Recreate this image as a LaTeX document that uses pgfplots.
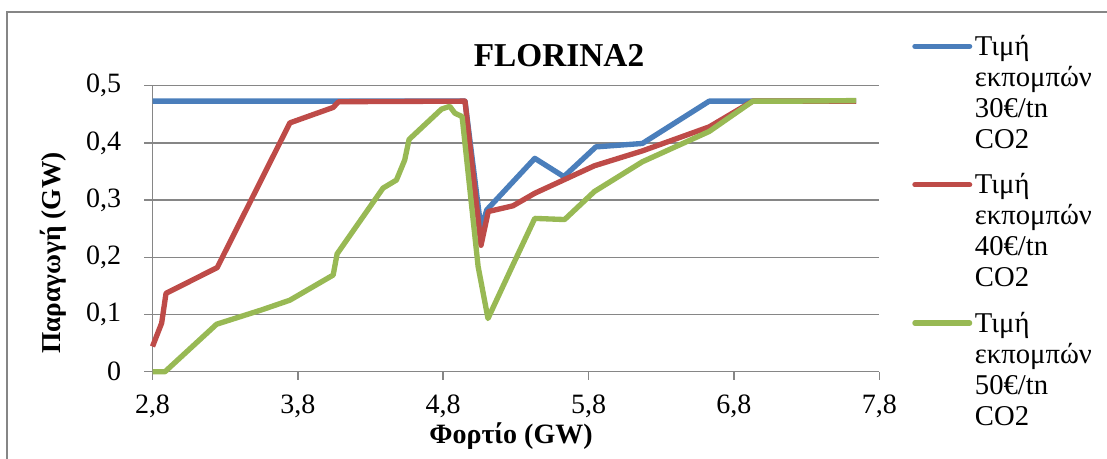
\documentclass[border=0pt]{standalone}
\usepackage{fontspec}
\setmainfont{Liberation Serif}
\usepackage{pgfplots}
\pgfplotsset{compat=1.18}
\definecolor{cblue}{RGB}{74,126,187}
\definecolor{cred}{RGB}{190,75,72}
\definecolor{cgreen}{RGB}{152,185,84}
\definecolor{cgrid}{RGB}{134,134,134}
\begin{document}
\begin{tikzpicture}
\useasboundingbox (0,0) rectangle (830.25pt,344.25pt);
\draw[cgrid, line width=1.1pt] (5.25pt,-2pt) -- (5.25pt,335.25pt) -- (833pt,335.25pt);
\begin{axis}[
  at={(114.375pt,65.475pt)}, anchor=south west,
  scale only axis, width=545.1pt, height=214.5pt,
  xmin=2.8, xmax=7.8, ymin=0, ymax=0.5,
  clip=false,
  axis x line*=bottom, axis y line*=left,
  axis line style={cgrid, line width=1.1pt, -},
  xtick={2.8,3.8,4.8,5.8,6.8,7.8},
  ytick={0,0.1,0.2,0.3,0.4,0.5},
  ymajorgrids, grid style={cgrid, line width=1.1pt},
  tick align=outside, major tick length=6pt,
  tick style={cgrid, line width=1.1pt},
  /pgf/number format/assume math mode=true,
  /pgf/number format/use comma,
  /pgf/number format/fixed,
  /pgf/number format/precision=1,
  tick label style={font=\fontsize{21}{24}\selectfont},
  xticklabel style={yshift=-8pt},
  yticklabel style={xshift=-14pt},
  legend cell align=left,
  legend style={at={(1.045,1.183)}, anchor=north west, draw=none, fill=none,
    inner sep=0pt, column sep=2pt, row sep=86pt,
    font=\fontsize{21.5}{23.25}\selectfont,
    nodes={inner sep=0pt},
    cells={anchor=base west}},
  legend image code/.code={\draw[#1, line cap=round] (0pt,6.75pt) -- (41pt,6.75pt);},
  every axis plot/.append style={line width=4pt, line join=round},
]
\addplot[cblue] coordinates {
(2.80,0.473)(4.95,0.473)(5.06,0.25)(5.10,0.283)(5.43,0.373)(5.63,0.341)(5.85,0.393)(6.17,0.399)(6.63,0.473)(7.64,0.473)};
\addlegendentry{\begin{tabular}[t]{@{}l@{}}Τιμή\\εκπομπών\\30€/tn\\CO2\end{tabular}}
\addplot[cred] coordinates {
(2.80,0.044)(2.863,0.085)(2.893,0.137)(3.245,0.182)(3.745,0.435)(4.043,0.462)(4.08,0.472)(4.95,0.473)(5.06,0.221)(5.11,0.28)(5.28,0.29)(5.43,0.312)(5.84,0.36)(6.17,0.386)(6.63,0.428)(6.93,0.473)(7.64,0.473)};
\addlegendentry{\begin{tabular}[t]{@{}l@{}}Τιμή\\εκπομπών\\40€/tn\\CO2\end{tabular}}
\addplot[cgreen] coordinates {
(2.80,0)(2.886,0)(3.241,0.083)(3.55,0.108)(3.745,0.125)(4.043,0.169)(4.07,0.206)(4.386,0.321)(4.478,0.335)(4.535,0.37)(4.565,0.406)(4.788,0.459)(4.845,0.464)(4.88,0.452)(4.93,0.446)(5.04,0.184)(5.108,0.093)(5.28,0.187)(5.43,0.268)(5.635,0.266)(5.84,0.315)(6.17,0.367)(6.63,0.42)(6.93,0.473)(7.23,0.473)(7.64,0.474)};
\addlegendentry{\begin{tabular}[t]{@{}l@{}}Τιμή\\εκπομπών\\50€/tn\\CO2\end{tabular}}
\end{axis}
\node[anchor=base, font=\bfseries\fontsize{25}{30}\selectfont] at (419.25pt,294pt) {FLORINA2};
\node[anchor=base, font=\bfseries\fontsize{21}{24}\selectfont] at (383.25pt,11.25pt) {Φορτίο (GW)};
\node[anchor=base, rotate=90, font=\bfseries\fontsize{20.5}{24}\selectfont] at (45pt,154.5pt) {Παραγωγή (GW)};
\end{tikzpicture}
\end{document}
